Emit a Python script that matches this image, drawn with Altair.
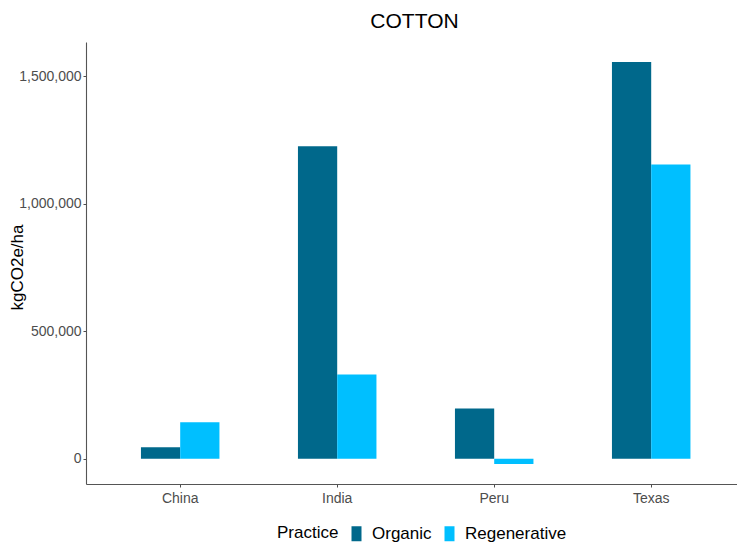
import altair as alt
import pandas as pd

regions = ["China", "India", "Peru", "Texas"]
practices = ["Organic", "Regenerative"]
organic = [45000, 1225000, 197000, 1555000]
regenerative = [143000, 330000, -20000, 1154000]
y_ticks = [0, 500000, 1000000, 1500000]
colors = ["#00688B", "#00BFFF"]

rows = []
for r, o, g in zip(regions, organic, regenerative):
    rows.append({"Region": r, "Practice": "Organic", "value": o})
    rows.append({"Region": r, "Practice": "Regenerative", "value": g})
df = pd.DataFrame(rows)

FONT = "Liberation Sans, Arial"

chart = alt.Chart(df).mark_bar().encode(
    x=alt.X("Region:N", sort=regions, title=None,
            scale=alt.Scale(paddingInner=0.5, paddingOuter=0.35, range=[0, 659.4]),
            axis=alt.Axis(labelAngle=0, bandPosition=0.5, labelFont=FONT, labelFontSize=14,
                          labelColor="#4D4D4D", labelPadding=4, tickSize=3, tickColor="#4D4D4D",
                          domainColor="#555555", domainWidth=1.1, grid=False)),
    xOffset=alt.XOffset("Practice:N", sort=practices,
                        scale=alt.Scale(paddingInner=0, paddingOuter=0)),
    y=alt.Y("value:Q", title="kgCO2e/ha",
            scale=alt.Scale(domain=[-98750, 1633750], nice=False, zero=False),
            axis=alt.Axis(values=y_ticks, format=",.0f", labelFont=FONT, labelFontSize=14,
                          labelColor="#4D4D4D", labelPadding=2, tickSize=3, tickColor="#4D4D4D",
                          domainColor="#555555", domainWidth=1.1, grid=False,
                          titleFont=FONT, titleFontSize=17, titleFontWeight="normal",
                          titleColor="#000000", titleX=-69, titleY=225, titleAlign="center",
                          titleBaseline="middle", titleAngle=270)),
    color=alt.Color("Practice:N", sort=practices,
                    scale=alt.Scale(domain=practices, range=colors),
                    legend=alt.Legend(orient="none", direction="horizontal", legendX=191, legendY=483,
                                      titleOrient="left", title="Practice", titleFont=FONT,
                                      titleFontSize=17, titleFontWeight="normal", titleColor="#000000",
                                      titlePadding=9, labelFont=FONT, labelFontSize=17,
                                      labelColor="#000000", labelOffset=7, columnPadding=9,
                                      symbolType="M-1,-1.5H1V1.5H-1Z", symbolSize=100,
                                      symbolStrokeWidth=0, padding=0, titleBaseline="middle")),
).properties(
    width=651,
    height=442,
    title=alt.TitleParams("COTTON", font=FONT, fontSize=21, fontWeight="normal",
                          color="#000000", anchor="middle", dx=3, offset=10),
    autosize=alt.AutoSizeParams(type="none"),
    padding={"left": 86, "top": 42, "right": 0, "bottom": 63},
).configure(background="white", view=alt.ViewConfig(stroke=None))

chart.save("out.html", embed_options={"renderer": "svg", "actions": False})
